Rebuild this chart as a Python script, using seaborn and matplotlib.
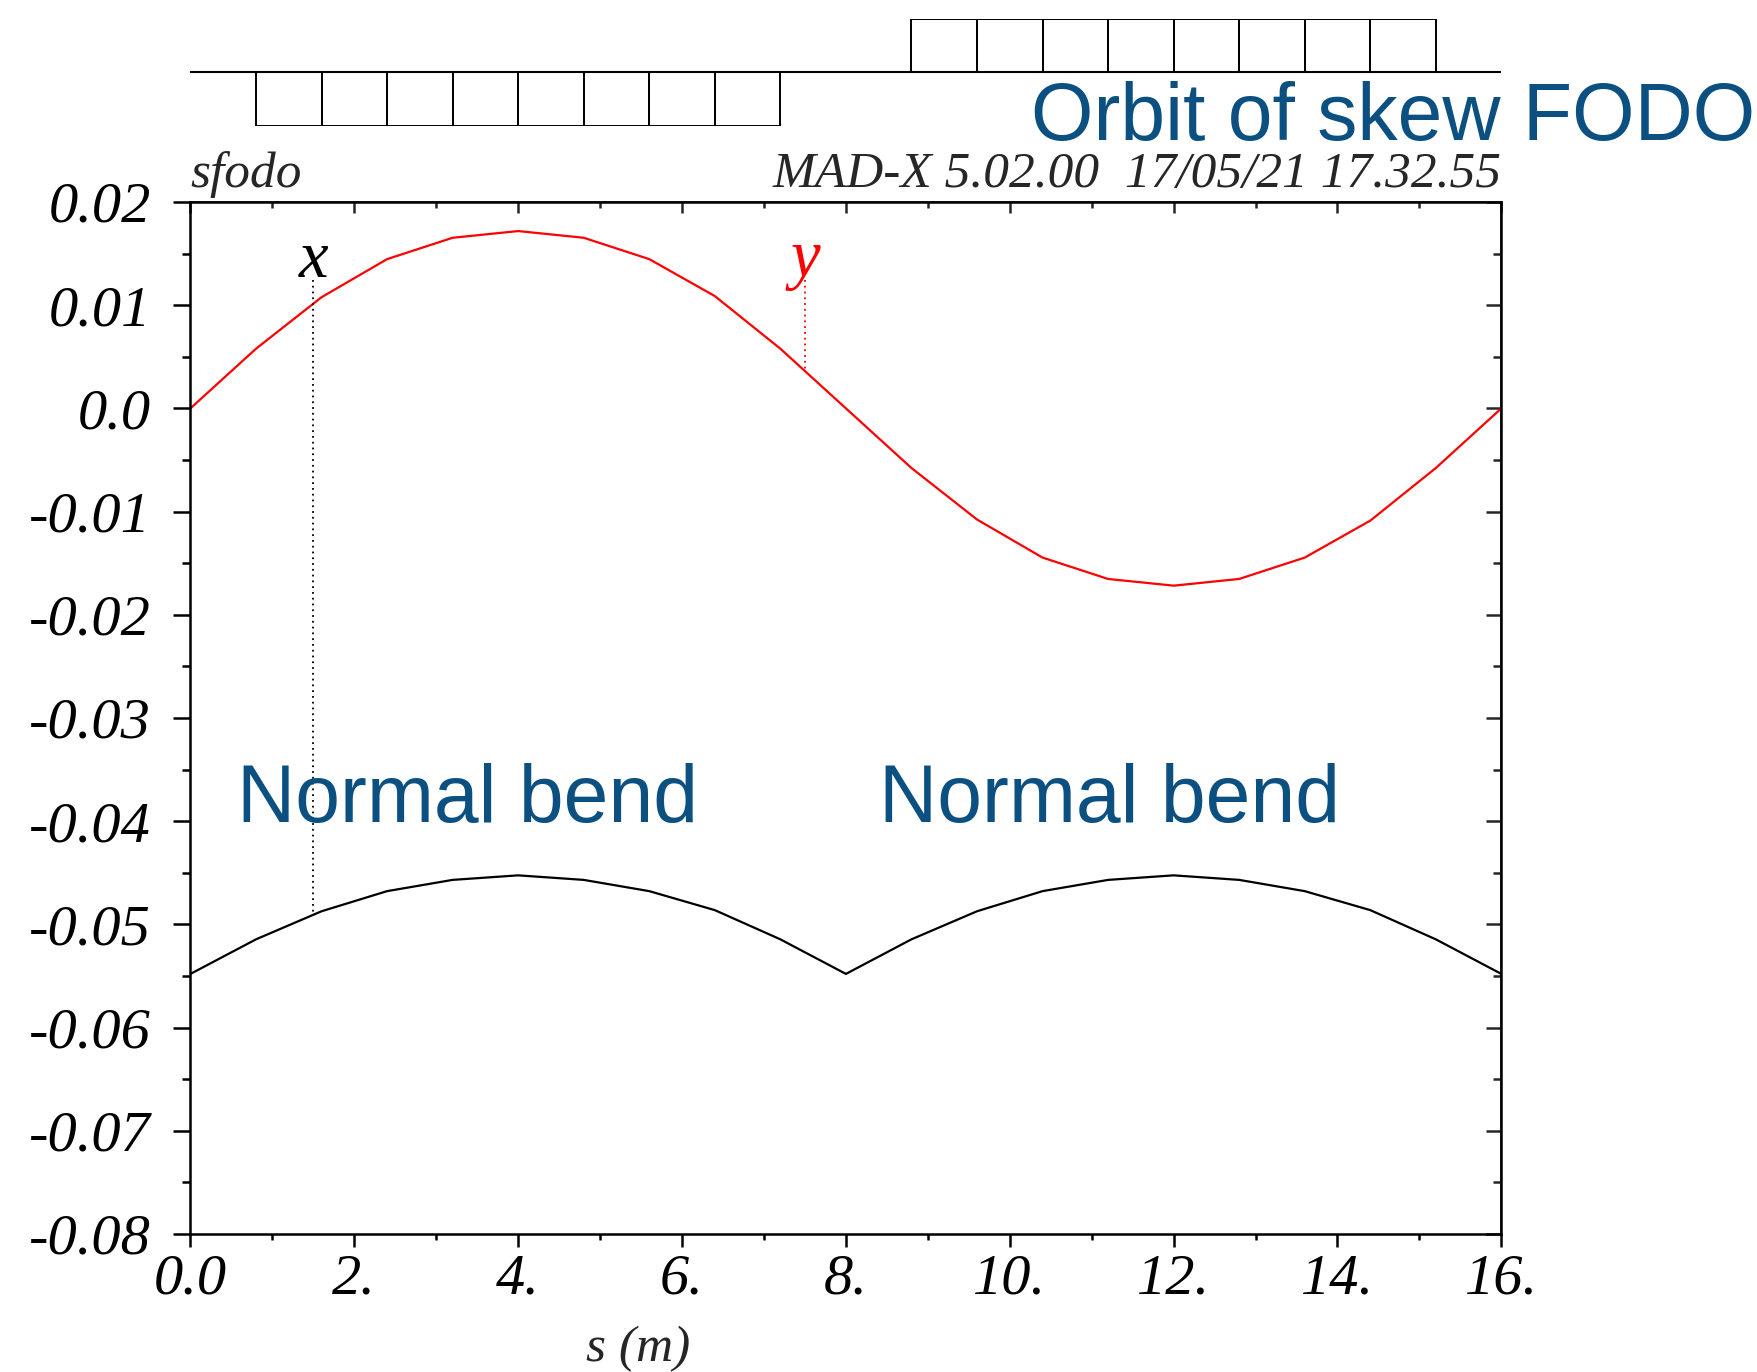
import numpy as np
import pandas as pd
import matplotlib
matplotlib.use("Agg")
import matplotlib.pyplot as plt
import seaborn as sns

# ---------------- data ----------------
s_pos = [0.0, 0.8, 1.6, 2.4, 3.2, 4.0, 4.8, 5.6, 6.4, 7.2, 8.0,
         8.8, 9.6, 10.4, 11.2, 12.0, 12.8, 13.6, 14.4, 15.2, 16.0]
orbit_x = [-0.0548, -0.05145, -0.04873, -0.04678, -0.04569, -0.04525, -0.04569,
           -0.04678, -0.04862, -0.05145, -0.0548,
           -0.05145, -0.04873, -0.04678, -0.04569, -0.04525, -0.04569,
           -0.04678, -0.04862, -0.05145, -0.0548]
orbit_y = [0.0, 0.00578, 0.01077, 0.01446, 0.01653, 0.01718, 0.01653,
           0.01446, 0.01088, 0.00578, 0.0,
           -0.00578, -0.01077, -0.01446, -0.01653, -0.01718, -0.01653,
           -0.01446, -0.01088, -0.00578, 0.0]

# element layout (bends) : centres, length, side (-1 below, +1 above)
elem_centres = [1.2, 2.0, 2.8, 3.6, 4.4, 5.2, 6.0, 6.8,
                9.2, 10.0, 10.8, 11.6, 12.4, 13.2, 14.0, 14.8]
elem_side = [-1, -1, -1, -1, -1, -1, -1, -1,
             1, 1, 1, 1, 1, 1, 1, 1]
elem_length = 0.8

xtick_vals = [0, 2, 4, 6, 8, 10, 12, 14, 16]
xtick_labels = ["0.0", "2.", "4.", "6.", "8.", "10.", "12.", "14.", "16."]
ytick_vals = [0.02, 0.01, 0.0, -0.01, -0.02, -0.03, -0.04, -0.05, -0.06, -0.07, -0.08]
ytick_labels = ["0.02", "0.01", "0.0", "-0.01", "-0.02", "-0.03", "-0.04",
                "-0.05", "-0.06", "-0.07", "-0.08"]

curve_names = ["x", "y"]
curve_label_s = [1.5, 7.5]
curve_label_v = 0.0124

title_text = "Orbit of skew FODO"
annot_text = ["Normal bend", "Normal bend"]
annot_s = [0.57, 8.40]
annot_v = -0.0401

# ---------------- style ----------------
sns.set_theme(style="white")
plt.rcParams["font.family"] = ["Liberation Serif", "DejaVu Serif"]

BLUE = "#0b5080"
RED = "#ff0000"

fig = plt.figure(figsize=(17.57, 13.72), dpi=100)
fig.patch.set_facecolor("white")

ax = fig.add_axes([0.1084, 0.1006, 0.7461, 0.7522])
ax.set_facecolor("white")

df = pd.DataFrame({"s": s_pos, "x": orbit_x, "y": orbit_y})
sns.lineplot(data=df, x="s", y="x", ax=ax, color="black", lw=1.6,
             estimator=None, sort=False)
sns.lineplot(data=df, x="s", y="y", ax=ax, color=RED, lw=1.6,
             estimator=None, sort=False)

ax.set_xlim(0, 16)
ax.set_ylim(-0.08, 0.02)

# curve labels with dotted connectors
curves = {"x": (orbit_x, "black"), "y": (orbit_y, RED)}
for name, sl in zip(curve_names, curve_label_s):
    vals, col = curves[name]
    v_curve = float(np.interp(sl, s_pos, vals))
    ax.plot([sl, sl], [curve_label_v, v_curve], color=col, lw=1.3,
            linestyle=(0, (1, 2.2)))
    ax.text(sl, curve_label_v + 0.0003, name, color=col, fontsize=48,
            style="italic", ha="center", va="baseline",
            family=["Liberation Serif"])

for txt, sx in zip(annot_text, annot_s):
    ax.text(sx, annot_v, txt, color=BLUE, fontsize=58, ha="left",
            va="baseline", family=["Liberation Sans"])

# spines
for sp in ax.spines.values():
    sp.set_visible(True)
    sp.set_color("black")
    sp.set_linewidth(1.8)

ax.set_xticks(xtick_vals)
ax.set_xticklabels(xtick_labels)
ax.set_xticks(np.arange(0, 17, 1), minor=True)
ax.set_yticks(ytick_vals)
ax.set_yticklabels(ytick_labels)
ax.set_yticks(np.arange(-0.08, 0.0201, 0.005), minor=True)

ax.tick_params(axis="both", which="both", direction="out", color="black",
               width=1.8, labelcolor="black")
ax.tick_params(axis="x", which="major", length=9, pad=5, labelsize=42,
               bottom=True, top=False)
ax.tick_params(axis="x", which="minor", length=4.5, bottom=True, top=False)
ax.tick_params(axis="y", which="major", length=12.5, pad=16, labelsize=42,
               left=True, right=False)
ax.tick_params(axis="y", which="minor", length=5.5, left=True, right=False)
for lab in ax.get_xticklabels() + ax.get_yticklabels():
    lab.set_fontstyle("italic")

# inward ticks on top / right
axt = ax.secondary_xaxis("top")
axt.set_xticks(xtick_vals)
axt.set_xticks(np.arange(0, 17, 1), minor=True)
axt.tick_params(which="major", direction="in", length=8, width=1.8,
                labeltop=False)
axt.tick_params(which="minor", direction="in", length=4.5, width=1.8)
axt.set_xticklabels([])
axr = ax.secondary_yaxis("right")
axr.set_yticks(ytick_vals)
axr.set_yticks(np.arange(-0.08, 0.0201, 0.005), minor=True)
axr.tick_params(which="major", direction="in", length=11, width=1.8,
                labelright=False)
axr.tick_params(which="minor", direction="in", length=5.5, width=1.8)
axr.set_yticklabels([])

ax.set_xlabel("s (m)", fontsize=37, style="italic")
ax.set_ylabel("")
ax.xaxis.set_label_coords(0.3413, -0.123)
ax.xaxis.label.set_va("baseline")

# header texts
fig.text(0.1084, 0.8637, "sfodo", fontsize=37, style="italic",
         ha="left", va="baseline")
fig.text(0.8546, 0.8637, "MAD-X 5.02.00  17/05/21 17.32.55", fontsize=37,
         style="italic", ha="right", va="baseline")
fig.text(0.5868, 0.898, title_text, fontsize=58, color=BLUE, ha="left",
         va="baseline", family=["Liberation Sans"])

# element layout axis
axe = fig.add_axes([0.1084, 0.9085, 0.7461, 0.0776])
axe.set_xlim(0, 16)
axe.set_ylim(-1, 1)
axe.axis("off")
axe.axhline(0, color="black", lw=1.5)
axe.bar(elem_centres, elem_side, width=elem_length, bottom=0,
        fill=False, edgecolor="black", linewidth=1.4, align="center")

fig.savefig("out.png", dpi=100, facecolor="white")
